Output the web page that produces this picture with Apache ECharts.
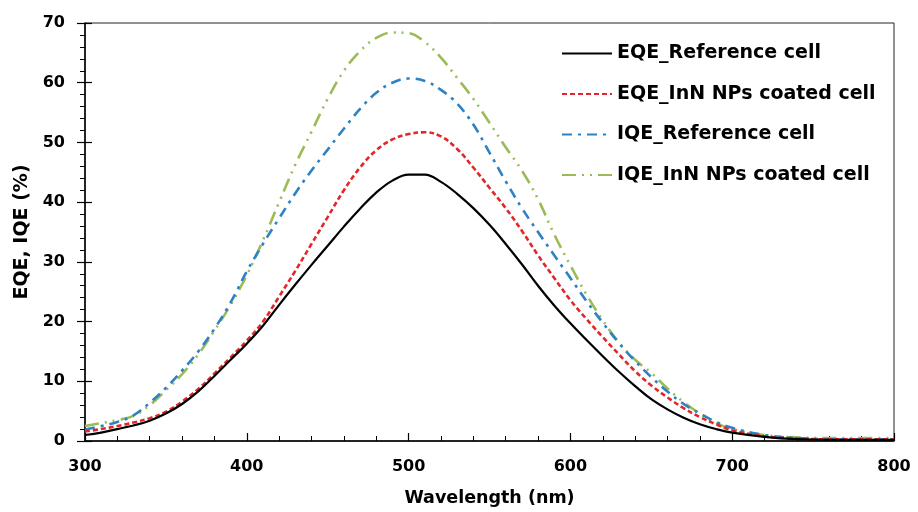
<!DOCTYPE html>
<html>
<head>
<meta charset="utf-8">
<script src="https://cdn.jsdelivr.net/npm/echarts@6/dist/echarts.min.js"></script>
<style>
html,body{margin:0;padding:0;background:#fff;}
#chart{width:918px;height:512px;}
</style>
</head>
<body>
<div id="chart"></div>
<script>
const wavelengths = [300,310,320,330,340,350,360,370,380,390,400,410,420,430,440,450,460,470,480,490,500,510,520,530,540,550,560,570,580,590,600,610,620,630,640,650,660,670,680,690,700,720,740,760,780,800];
const eqeReference = [1.0,1.4,2.0,2.6,3.4,4.6,6.2,8.3,10.9,13.6,16.3,19.3,22.8,26.2,29.5,32.7,35.9,38.9,41.6,43.6,44.6,44.6,43.4,41.4,39.0,36.2,33.0,29.6,26.0,22.7,19.7,16.9,14.2,11.6,9.2,7.0,5.3,3.9,2.8,2.0,1.4,0.7,0.3,0.2,0.2,0.2];
const eqeCoated = [1.6,2.0,2.5,3.1,3.8,4.9,6.6,8.7,11.3,14.0,16.8,20.0,24.2,28.5,33.0,37.5,42.0,45.8,48.7,50.5,51.4,51.7,51.0,48.9,45.8,42.4,39.0,35.2,31.1,27.3,23.6,20.4,17.4,14.5,11.7,9.3,7.3,5.5,4.0,2.8,1.8,0.8,0.4,0.3,0.3,0.3];
const iqeReference = [1.9,2.5,3.2,4.3,6.4,8.9,11.8,15.0,18.8,23.2,28.4,33.0,37.3,41.5,45.3,48.8,52.3,55.6,58.3,60.0,60.7,60.3,58.8,56.5,53.0,48.3,43.5,39.0,35.0,31.1,27.3,23.4,19.8,16.4,13.4,10.7,8.3,6.2,4.6,3.2,2.2,1.0,0.5,0.3,0.3,0.3];
const iqeCoated = [2.5,3.0,3.5,4.2,6.0,8.5,11.2,14.5,18.5,22.8,27.8,33.6,40.0,46.3,51.8,57.3,62.0,65.3,67.5,68.4,68.3,66.8,64.2,60.8,57.3,53.3,49.2,45.3,40.5,34.6,29.4,24.5,20.2,16.5,13.6,11.4,8.8,6.5,4.6,3.0,2.0,1.0,0.6,0.5,0.5,0.5];
const seriesNames = ['EQE_Reference cell','EQE_InN NPs coated cell','IQE_Reference cell','IQE_InN NPs coated cell'];
const xTicks = {min:300, max:800, interval:100};
const yTicks = {min:0, max:70, interval:10};

const font = '"DejaVu Sans", "Liberation Sans", Arial, sans-serif';
function pairs(ys){ return wavelengths.map((x,i)=>[x, ys[i]]); }

const chart = echarts.init(document.getElementById('chart'), null, {renderer:'canvas'});
const styles = [
  {color:'#000000', width:2.2, type:'solid'},
  {color:'#e3262b', width:2.6, type:[5,3]},
  {color:'#2c82c3', width:2.6, type:[10,6,3,6]},
  {color:'#9bbb59', width:2.6, type:[14,6,2,6,2,6]}
];
const datasets = [eqeReference, eqeCoated, iqeReference, iqeCoated];
chart.setOption({
  animation:false,
  grid:{left:85, right:24, top:23, bottom:69, show:true, borderColor:'#222', borderWidth:1},
  legend:{
    orient:'vertical', left:556, top:39, itemWidth:50, itemHeight:20, itemGap:21.5,
    itemStyle:{opacity:0},
    textStyle:{fontFamily:font, fontWeight:'bold', fontSize:19, color:'#000'},
    data:seriesNames
  },
  xAxis:{
    type:'value', min:xTicks.min, max:xTicks.max, interval:xTicks.interval,
    name:'Wavelength (nm)', nameLocation:'middle', nameGap:48,
    nameTextStyle:{fontFamily:font, fontWeight:'bold', fontSize:17.5, color:'#000'},
    axisLine:{lineStyle:{color:'#000', width:1.5}},
    axisTick:{inside:true, length:8, lineStyle:{color:'#000', width:1.2}},
    minorTick:{show:true, splitNumber:5, length:5, lineStyle:{color:'#000', width:1}},
    axisLabel:{fontFamily:font, fontWeight:'bold', fontSize:16, color:'#000', margin:18},
    splitLine:{show:false}
  },
  yAxis:[{
    type:'value', min:yTicks.min, max:yTicks.max, interval:yTicks.interval,
    name:'EQE, IQE (%)', nameLocation:'middle', nameGap:51,
    nameTextStyle:{fontFamily:font, fontWeight:'bold', fontSize:19, color:'#000'},
    axisLine:{lineStyle:{color:'#000', width:1.5}},
    axisTick:{inside:false, length:8, lineStyle:{color:'#000', width:1.2}},
    minorTick:{show:true, splitNumber:5, length:5, lineStyle:{color:'#000', width:1}},
    axisLabel:{fontFamily:font, fontWeight:'bold', fontSize:16, color:'#000', margin:20},
    splitLine:{show:false}
  },{
    type:'value', min:yTicks.min, max:yTicks.max, interval:yTicks.interval, position:'left',
    axisLine:{show:false},
    axisTick:{inside:true, length:7, lineStyle:{color:'#000', width:1.2}},
    axisLabel:{show:false}, splitLine:{show:false}
  }],
  series: datasets.map((d,i)=>({
    name:seriesNames[i], type:'line', data:pairs(d), smooth:0.4, showSymbol:false, symbol:'none',
    lineStyle:{color:styles[i].color, width:styles[i].width, type:styles[i].type},
    itemStyle:{color:styles[i].color},
    z: 10-i
  }))
});
</script>
</body>
</html>
